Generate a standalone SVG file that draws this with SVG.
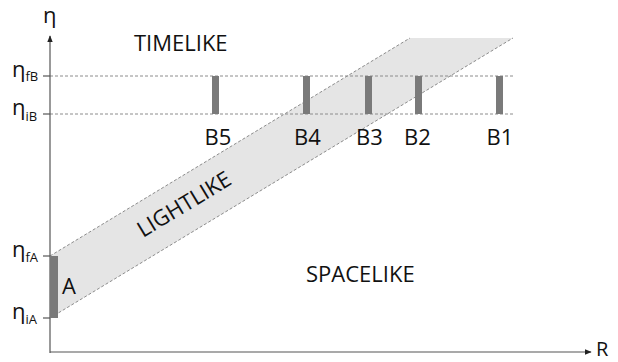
<svg xmlns="http://www.w3.org/2000/svg" width="618" height="362" viewBox="0 0 618 362">
<defs>
<style>
.t{font-family:"Open Sans","Liberation Sans",sans-serif;fill:#111;font-size:22px}
.s{font-size:13px}
.dash{stroke:#8c8c8c;stroke-width:1;stroke-dasharray:3,2;fill:none}
.bar{fill:#7a7a7a}
.ax{stroke:#555;stroke-width:1.2;fill:none}
</style>
<marker id="ah" viewBox="0 0 10 10" refX="9" refY="5" markerWidth="7" markerHeight="7" orient="auto" markerUnits="userSpaceOnUse"><path d="M0,1 L10,5 L0,9 z" fill="#222"/></marker>
</defs>
<rect width="618" height="362" fill="#fff"/>
<g id="lightlike">
<polygon points="50,256 410,38 513,38 50,318" fill="#e5e5e5"/>
<line class="dash" x1="50" y1="256" x2="410" y2="38"/>
<line class="dash" x1="50" y1="318" x2="513" y2="38"/>
<text class="t" transform="translate(143,238) rotate(-31.2)">LIGHTLIKE</text>
</g>
<g id="guides">
<line class="dash" x1="50" y1="76" x2="513" y2="76"/>
<line class="dash" x1="50" y1="114" x2="513" y2="114"/>
</g>
<g id="axes">
<line class="ax" x1="50" y1="353" x2="50" y2="36" marker-end="url(#ah)"/>
<line class="ax" x1="50" y1="352" x2="591" y2="352" marker-end="url(#ah)"/>
<line class="ax" x1="43" y1="76" x2="50" y2="76"/>
<line class="ax" x1="43" y1="114" x2="50" y2="114"/>
<line class="ax" x1="43" y1="256" x2="50" y2="256"/>
<line class="ax" x1="43" y1="318" x2="50" y2="318"/>
<text class="t" x="43" y="23">η</text>
<text class="t" x="596" y="356" style="font-size:20px">R</text>
<text class="t" x="12" y="77">η<tspan class="s" dy="4">fB</tspan></text>
<text class="t" x="12" y="115">η<tspan class="s" dy="6">iB</tspan></text>
<text class="t" x="12" y="257">η<tspan class="s" dy="5">fA</tspan></text>
<text class="t" x="12" y="319">η<tspan class="s" dy="5">iA</tspan></text>
</g>
<g id="A">
<rect class="bar" x="50" y="256" width="8" height="62"/>
<text class="t" x="62" y="294">A</text>
</g>
<g id="B5"><rect class="bar" x="212" y="76" width="7" height="38"/><text class="t" x="218" y="145" text-anchor="middle">B5</text></g>
<g id="B4"><rect class="bar" x="303" y="76" width="7" height="38"/><text class="t" x="307.5" y="145" text-anchor="middle">B4</text></g>
<g id="B3"><rect class="bar" x="365" y="76" width="7" height="38"/><text class="t" x="369.5" y="145" text-anchor="middle">B3</text></g>
<g id="B2"><rect class="bar" x="415" y="76" width="7" height="38"/><text class="t" x="417.5" y="145" text-anchor="middle">B2</text></g>
<g id="B1"><rect class="bar" x="496" y="76" width="7" height="38"/><text class="t" x="500" y="145" text-anchor="middle">B1</text></g>
<g id="regions">
<text class="t" x="134" y="51">TIMELIKE</text>
<text class="t" x="306" y="282">SPACELIKE</text>
</g>
</svg>
